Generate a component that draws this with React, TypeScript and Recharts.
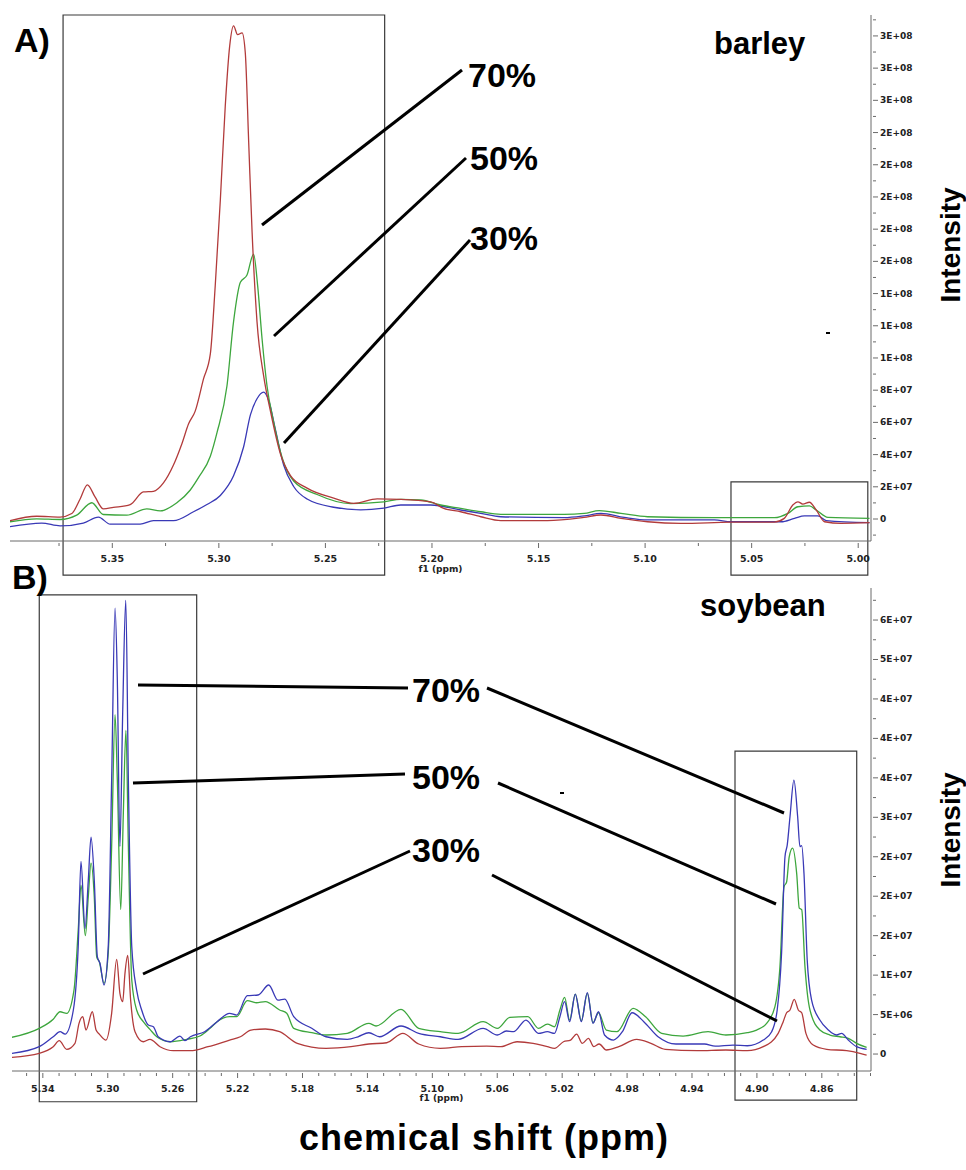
import React from "react";
import { LineChart, Line, XAxis, YAxis, ReferenceArea } from "recharts";

type Pt = [number, number];

// intensities are in millions (x 1e6), x is chemical shift in ppm

// A) barley
const barley70: Pt[] = [
  [5.398, -1.0], [5.3855, 1.7], [5.3745, 1.2], [5.369, 3.4], [5.3651, 12.4], [5.3617, 21.2],
  [5.3581, 13.7], [5.3542, 6.3], [5.3495, 7.2], [5.3416, 9.0], [5.3354, 16.8], [5.3307, 17.2],
  [5.326, 22.4], [5.3213, 33.5], [5.3173, 46.9], [5.3142, 59.1], [5.3111, 67], [5.3072, 87],
  [5.304, 102.5], [5.3017, 144.9], [5.2993, 198.3], [5.297, 256.3], [5.2949, 294], [5.2931, 306.3],
  [5.2912, 300.8], [5.2891, 301.9], [5.2876, 289.6], [5.286, 234], [5.2844, 178], [5.2821, 122.6],
  [5.279, 89], [5.2758, 67], [5.2711, 40.4], [5.2664, 27], [5.2586, 19.2], [5.2461, 13],
  [5.2367, 9.7], [5.2257, 12.5], [5.2147, 12.2], [5.2006, 10.7], [5.1945, 6.6], [5.1865, 4.5],
  [5.1771, 1.4], [5.1677, -1.0], [5.1458, -1.0], [5.1287, 1.0], [5.1207, 2.5], [5.1113, 0.4],
  [5.0988, -1.7], [5.0832, -2.7], [5.0597, -2.0], [5.0394, -1.9], [5.0347, 0.4], [5.0307, 8.7],
  [5.0283, 10.7], [5.026, 9.3], [5.0229, 10.4], [5.0197, 5.6], [5.0158, -1.7], [5.008, -2.7],
  [4.9947, -2.3],
];
const barley50: Pt[] = [
  [5.398, -1.7], [5.3855, 0.1], [5.3745, -0.3], [5.3667, 2.4], [5.3596, 10.1], [5.3542, 2.8],
  [5.3432, 2.4], [5.3338, 6.3], [5.3275, 5.0], [5.3197, 10.1], [5.3134, 18], [5.3095, 25.8],
  [5.304, 39], [5.3009, 53.5], [5.2962, 82.6], [5.2931, 122.6], [5.2899, 147], [5.2868, 151.5],
  [5.2837, 164.5], [5.2818, 144.9], [5.2797, 111.5], [5.2774, 82.6], [5.2743, 60.2], [5.2703, 38],
  [5.2649, 23.6], [5.2539, 15.2], [5.2382, 9.6], [5.2226, 10.7], [5.2147, 12.2], [5.2053, 11.8],
  [5.1959, 8.7], [5.1865, 6.6], [5.1771, 4.5], [5.1677, 2.9], [5.138, 2.9], [5.1286, 3.5],
  [5.1215, 5.2], [5.1113, 3.5], [5.0988, 1.4], [5.0675, 0.8], [5.0393, 0.8], [5.033, 3.5],
  [5.0283, 7.6], [5.0229, 8.1], [5.0197, 5.6], [5.0142, 1.0], [4.9947, 0.4],
];
const barley30: Pt[] = [
  [5.398, -4.8], [5.3831, -2.5], [5.3745, -4.3], [5.3636, -2.5], [5.3565, 1.2], [5.351, -3.2],
  [5.3369, -3.2], [5.3307, -1.0], [5.3213, -1.0], [5.3119, 4.5], [5.3056, 9.0], [5.2993, 14.6],
  [5.2931, 26.8], [5.2884, 44.7], [5.2852, 64.7], [5.2821, 74.7], [5.279, 78.8], [5.2766, 73.6],
  [5.2735, 55.8], [5.2696, 33.5], [5.2649, 20.2], [5.2586, 12.4], [5.2461, 7.3], [5.2335, 5.7],
  [5.2226, 6.8], [5.2147, 8.7], [5.2006, 8.7], [5.1865, 5.6], [5.1771, 3.5], [5.1677, 1.4],
  [5.138, 0.8], [5.1286, 1.9], [5.1207, 3.5], [5.1098, 1.0], [5.0988, -0.6], [5.0675, -0.6],
  [5.0597, -1.7], [5.0362, -1.7], [5.0299, 0.4], [5.0252, 1.9], [5.0189, 1.9], [5.015, -1.0],
  [4.9947, -2.3],
];

// B) soybean
const soy70: Pt[] = [
  [5.3592, 0.09], [5.3422, 0.93], [5.3336, 2.19], [5.3294, 2.83], [5.3263, 2.53], [5.3212, 5.58],
  [5.3182, 13.6], [5.3165, 24.4], [5.314, 15.9], [5.312, 22.0], [5.3103, 27.5], [5.3083, 22.0],
  [5.3064, 12.3], [5.3048, 11.5], [5.3023, 8.75], [5.2997, 13.6], [5.2976, 34.7], [5.2955, 56.5],
  [5.2941, 47.4], [5.2925, 26.3], [5.2908, 43.2], [5.2889, 57.5], [5.2873, 34.7], [5.2852, 13.6],
  [5.2822, 8.1], [5.2791, 5.58], [5.275, 3.68], [5.2719, 3.46], [5.2689, 2.19], [5.2616, 1.56],
  [5.2555, 2.28], [5.2524, 1.69], [5.2491, 2.19], [5.2403, 2.83], [5.2326, 4.1], [5.2249, 5.16],
  [5.2206, 4.94], [5.214, 7.39], [5.2074, 7.48], [5.2008, 8.75], [5.1952, 6.84], [5.1909, 6.97],
  [5.1854, 4.73], [5.1743, 3.26], [5.1655, 2.19], [5.1524, 1.86], [5.1458, 2.19], [5.1391, 2.7],
  [5.1325, 2.19], [5.1193, 3.55], [5.1084, 2.62], [5.0951, 2.19], [5.0841, 1.86], [5.0687, 3.26],
  [5.0599, 2.41], [5.0544, 2.92], [5.05, 2.83], [5.0423, 4.31], [5.0346, 2.62], [5.0291, 2.83],
  [5.0247, 2.62], [5.0214, 4.73], [5.0185, 6.63], [5.0154, 4.1], [5.0119, 7.6], [5.0082, 4.1],
  [5.0045, 7.77], [5.001, 3.89], [4.9976, 5.36], [4.9939, 2.41], [4.9884, 1.77], [4.9829, 2.83],
  [4.9769, 5.23], [4.9697, 4.1], [4.9609, 2.19], [4.9499, 1.27], [4.9323, 1.27], [4.9257, 1.01],
  [4.9147, 1.14], [4.9059, 1.05], [4.8961, 1.77], [4.8909, 2.83], [4.8875, 5.58], [4.8848, 12.8],
  [4.8827, 25.0], [4.8813, 26.5], [4.8796, 30.1], [4.8772, 34.7], [4.8749, 30.1], [4.8735, 26.3],
  [4.8724, 26.4], [4.871, 22.9], [4.869, 11.9], [4.8663, 6.84], [4.8612, 4.31], [4.856, 3.04],
  [4.854, 2.7], [4.8509, 2.41], [4.8478, 2.62], [4.8437, 1.77], [4.8386, 0.93], [4.8324, 0.6],
];
const soy50: Pt[] = [
  [5.3592, 2.12], [5.3422, 3.26], [5.3336, 4.4], [5.3294, 5.36], [5.3253, 5.16], [5.3208, 8.11],
  [5.3182, 15.7], [5.3165, 21.4], [5.3138, 15.0], [5.312, 19.9], [5.3103, 24.2], [5.3083, 19.9],
  [5.3068, 12.3], [5.3052, 11.7], [5.3023, 8.96], [5.2997, 12.8], [5.2976, 26.3], [5.2955, 43.0],
  [5.2941, 34.7], [5.292, 18.3], [5.2904, 30.5], [5.2888, 41.0], [5.2873, 26.3], [5.2852, 9.38],
  [5.2822, 5.58], [5.2781, 4.1], [5.274, 3.13], [5.2698, 2.19], [5.2616, 1.56], [5.2514, 1.86],
  [5.2432, 2.28], [5.237, 3.26], [5.2326, 4.1], [5.2249, 4.73], [5.2206, 4.73], [5.214, 6.76],
  [5.2085, 6.5], [5.2029, 6.63], [5.1941, 5.58], [5.1897, 5.16], [5.1854, 3.26], [5.1743, 2.7],
  [5.1655, 2.41], [5.1524, 2.62], [5.1391, 3.89], [5.1347, 3.55], [5.1193, 5.67], [5.1084, 3.26],
  [5.0951, 2.83], [5.0841, 2.62], [5.0687, 4.1], [5.0599, 3.26], [5.0522, 4.65], [5.0412, 4.73],
  [5.0346, 3.26], [5.0291, 3.8], [5.0247, 3.46], [5.0214, 5.58], [5.0185, 7.19], [5.0154, 4.31],
  [5.0119, 7.6], [5.0082, 4.22], [5.0045, 7.69], [5.001, 3.97], [4.9976, 5.23], [4.9928, 3.04],
  [4.9862, 2.83], [4.9763, 5.79], [4.9686, 4.73], [4.9587, 2.62], [4.9455, 2.28], [4.9301, 2.83],
  [4.9191, 2.41], [4.9059, 2.7], [4.9002, 3.04], [4.894, 3.89], [4.8889, 6.0], [4.8858, 11.1],
  [4.8833, 21.2], [4.8817, 21.8], [4.8801, 25.0], [4.878, 26.1], [4.8755, 22.9], [4.8739, 18.5],
  [4.8724, 18.3], [4.8704, 11.1], [4.8673, 5.58], [4.8612, 3.04], [4.855, 2.41], [4.8488, 2.19],
  [4.8437, 1.99], [4.8386, 1.36], [4.8324, 0.85],
];
const soy30: Pt[] = [
  [5.3592, -0.42], [5.3422, 0.09], [5.3336, 0.93], [5.3299, 1.69], [5.3253, 0.6], [5.3202, 1.36],
  [5.3177, 3.89], [5.3154, 4.73], [5.3134, 3.04], [5.3095, 5.36], [5.3072, 3.04], [5.3052, 2.53],
  [5.3011, 1.77], [5.2976, 5.16], [5.2945, 12.0], [5.2925, 7.69], [5.2908, 6.63], [5.2894, 10.2],
  [5.2877, 12.5], [5.2859, 6.84], [5.2832, 2.83], [5.2781, 1.56], [5.274, 1.86], [5.2678, 0.93],
  [5.2596, 0.42], [5.2491, 0.42], [5.2382, 0.93], [5.2249, 1.77], [5.2183, 2.19], [5.2117, 3.04],
  [5.2029, 3.17], [5.1941, 2.83], [5.1832, 1.36], [5.1655, 0.72], [5.1501, 0.93], [5.1391, 1.27],
  [5.1281, 1.43], [5.1182, 2.62], [5.1084, 1.27], [5.0951, 0.72], [5.0819, 0.93], [5.0665, 1.01],
  [5.0577, 0.93], [5.0478, 1.56], [5.0379, 1.36], [5.0291, 0.93], [5.0247, 0.72], [5.0192, 1.56],
  [5.0148, 1.77], [5.0111, 2.53], [5.0076, 1.36], [5.0038, 1.99], [5.0005, 0.93], [4.9972, 1.27],
  [4.9928, 0.51], [4.9851, 0.93], [4.9741, 1.86], [4.9653, 1.36], [4.9565, 0.6], [4.9367, 0.42],
  [4.9191, 0.51], [4.9059, 0.42], [4.8961, 0.93], [4.8869, 2.62], [4.8838, 4.1], [4.8817, 5.23],
  [4.8796, 5.58], [4.877, 6.93], [4.8745, 5.58], [4.8724, 5.23], [4.8698, 2.62], [4.8653, 1.14],
  [4.857, 0.6], [4.8447, 0.42], [4.8365, 0.09], [4.8324, -0.13],
];

// axis ticks (y in millions)
const barleyXTicks = [5.35, 5.3, 5.25, 5.2, 5.15, 5.1, 5.05, 5.0];
const barleyYTicks = [0, 20, 40, 60, 80, 100, 120, 140, 160, 180, 200, 220, 240, 260, 280, 300];
const barleyYLabels = [
  "0", "2E+07", "4E+07", "6E+07", "8E+07", "1E+08", "1E+08", "1E+08",
  "2E+08", "2E+08", "2E+08", "2E+08", "2E+08", "3E+08", "3E+08", "3E+08",
];
const soyXTicks = [5.34, 5.3, 5.26, 5.22, 5.18, 5.14, 5.1, 5.06, 5.02, 4.98, 4.94, 4.9, 4.86];
const soyYTicks = [0, 5, 10, 15, 20, 25, 30, 35, 40, 45, 50, 55];
const soyYLabels = [
  "0", "5E+06", "1E+07", "2E+07", "2E+07", "2E+07", "3E+07", "4E+07", "4E+07", "4E+07", "5E+07", "6E+07",
];

const RED = "#b23b3b";
const GREEN = "#3da63d";
const BLUE = "#3939b6";
const AXIS = "#6a6a6a";
const TICK_FONT = "'DejaVu Sans', Verdana, sans-serif";
const LABEL_FONT = "'Liberation Sans', Arial, sans-serif";

const steps = (from: number, to: number, step: number) => {
  const out: number[] = [];
  const n = Math.round((to - from) / step);
  for (let i = 0; i <= n; i++) out.push(Math.round((from + i * step) * 10000) / 10000);
  return out;
};

const rows = (pts: Pt[]) => pts.map(([ppm, v]) => ({ ppm, v }));
const isMajor = (list: number[], v: number) => list.findIndex((m) => Math.abs(m - v) < 1e-6);

const makeXTick = (majors: number[]) => (props: any) => {
  const { x, y, payload } = props;
  const v = payload.value as number;
  const major = isMajor(majors, v) >= 0;
  return (
    <g>
      <line x1={x} x2={x} y1={y} y2={y + (major ? 5 : 3)} stroke={AXIS} />
      {major && (
        <text x={x} y={y + 19} textAnchor="middle" fontSize={9.5} fontWeight={700} fontFamily={TICK_FONT} fill="#222">
          {v.toFixed(2)}
        </text>
      )}
    </g>
  );
};

const makeYTick = (majors: number[], labels: string[]) => (props: any) => {
  const { x, y, payload } = props;
  const i = isMajor(majors, payload.value as number);
  return (
    <g>
      <line x1={x} x2={x + (i >= 0 ? 5 : 3)} y1={y} y2={y} stroke={AXIS} />
      {i >= 0 && (
        <text x={x + 7} y={y + 3} fontSize={9} fontWeight={700} fontFamily={TICK_FONT} fill="#222">
          {labels[i]}
        </text>
      )}
    </g>
  );
};

const boxStyle = { fill: "none", fillOpacity: 0, stroke: "#3a3a3a", strokeWidth: 1.2 };

const BarleyChart = () => (
  <LineChart width={966} height={600} margin={{ top: 15, left: 10, right: 35, bottom: 19 }}>
    <XAxis
      type="number" dataKey="ppm" reversed domain={[4.994, 5.398]} allowDataOverflow
      ticks={steps(5.0, 5.375, 0.025)} interval={0} tickSize={0} tickLine={false}
      tick={makeXTick(barleyXTicks)} stroke={AXIS} height={40}
      label={{ value: "f1 (ppm)", position: "insideBottom", offset: 9, fontSize: 9, fontWeight: 700, fontFamily: TICK_FONT, fill: "#222" }}
    />
    <YAxis
      orientation="right" type="number" domain={[-13.66, 313]} allowDataOverflow
      ticks={steps(-10, 310, 10)} interval={0} tickSize={0} tickLine={false}
      tick={makeYTick(barleyYTicks, barleyYLabels)} stroke={AXIS} width={60}
    />
    <ReferenceArea x1={5.3731} x2={5.2222} y1={-34.8} y2={313} ifOverflow="visible" {...boxStyle} />
    <ReferenceArea x1={5.0597} x2={4.9955} y1={-34.8} y2={23} ifOverflow="visible" {...boxStyle} />
    <Line data={rows(barley30)} dataKey="v" type="monotone" dot={false} stroke={BLUE} strokeWidth={1.3} isAnimationActive={false} />
    <Line data={rows(barley50)} dataKey="v" type="monotone" dot={false} stroke={GREEN} strokeWidth={1.3} isAnimationActive={false} />
    <Line data={rows(barley70)} dataKey="v" type="monotone" dot={false} stroke={RED} strokeWidth={1.3} isAnimationActive={false} />
  </LineChart>
);

const SoyChart = () => (
  <LineChart width={966} height={560} margin={{ top: 28, left: 12, right: 35, bottom: 9 }}>
    <XAxis
      type="number" dataKey="ppm" reversed domain={[4.8297, 5.359]} allowDataOverflow
      ticks={steps(4.83, 5.35, 0.01)} interval={0} tickSize={0} tickLine={false}
      tick={makeXTick(soyXTicks)} stroke={AXIS} height={40}
      label={{ value: "f1 (ppm)", position: "insideBottom", offset: 10, fontSize: 9, fontWeight: 700, fontFamily: TICK_FONT, fill: "#222" }}
    />
    <YAxis
      orientation="right" type="number" domain={[-2.15, 59.06]} allowDataOverflow
      ticks={steps(0, 57.5, 2.5)} interval={0} tickSize={0} tickLine={false}
      tick={makeYTick(soyYTicks, soyYLabels)} stroke={AXIS} width={60}
    />
    <ReferenceArea x1={5.3422} x2={5.2452} y1={-6.05} y2={58.2} ifOverflow="visible" {...boxStyle} />
    <ReferenceArea x1={4.9135} x2={4.8385} y1={-5.85} y2={38.4} ifOverflow="visible" {...boxStyle} />
    <Line data={rows(soy30)} dataKey="v" type="monotone" dot={false} stroke={RED} strokeWidth={1.3} isAnimationActive={false} />
    <Line data={rows(soy50)} dataKey="v" type="monotone" dot={false} stroke={GREEN} strokeWidth={1.3} isAnimationActive={false} />
    <Line data={rows(soy70)} dataKey="v" type="monotone" dot={false} stroke={BLUE} strokeWidth={1.3} isAnimationActive={false} />
  </LineChart>
);

const big = { fontFamily: LABEL_FONT, fontWeight: 700, fill: "#000" } as const;

const Annotations = () => (
  <svg width={966} height={1170} style={{ position: "absolute", left: 0, top: 0, pointerEvents: "none" }}>
    <g stroke="#000" strokeWidth={3}>
      <line x1={262} y1={225} x2={462} y2={70} />
      <line x1={274} y1={336} x2={466} y2={158} />
      <line x1={284} y1={443} x2={470} y2={240} />
      <line x1={138} y1={685} x2={408} y2={688} />
      <line x1={487} y1={688} x2={784} y2={813} />
      <line x1={133} y1={783} x2={405} y2={774} />
      <line x1={498} y1={783} x2={776} y2={904} />
      <line x1={143} y1={974} x2={410} y2={851} />
      <line x1={492} y1={875} x2={777} y2={1021} />
    </g>
    <rect x={826} y={332} width={4} height={2} fill="#000" />
    <rect x={560} y={792} width={4} height={2} fill="#000" />
    <text x={14} y={52} fontSize={34} {...big}>A)</text>
    <text x={12} y={589} fontSize={34} {...big}>B)</text>
    <text x={714} y={54} fontSize={31} {...big}>barley</text>
    <text x={700} y={616} fontSize={31} {...big}>soybean</text>
    <text x={468} y={87} fontSize={34} {...big}>70%</text>
    <text x={470} y={170} fontSize={34} {...big}>50%</text>
    <text x={470} y={250} fontSize={34} {...big}>30%</text>
    <text x={412} y={702} fontSize={34} {...big}>70%</text>
    <text x={412} y={789} fontSize={34} {...big}>50%</text>
    <text x={412} y={862} fontSize={34} {...big}>30%</text>
    <text x={960} y={245} fontSize={28} textAnchor="middle" transform="rotate(-90 960 245)" {...big}>Intensity</text>
    <text x={960} y={830} fontSize={28} textAnchor="middle" transform="rotate(-90 960 830)" {...big}>Intensity</text>
    <text x={484} y={1150} fontSize={36} textAnchor="middle" letterSpacing={1} {...big}>chemical shift (ppm)</text>
  </svg>
);

export default function App() {
  return (
    <div style={{ position: "absolute", left: 0, top: 0, width: 966, height: 1170, background: "#fff" }}>
      <div style={{ position: "absolute", left: 0, top: 0 }}>
        <BarleyChart />
      </div>
      <div style={{ position: "absolute", left: 0, top: 560 }}>
        <SoyChart />
      </div>
      <Annotations />
    </div>
  );
}
